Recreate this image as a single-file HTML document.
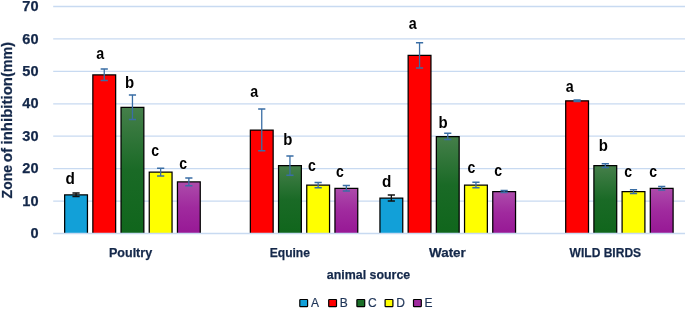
<!DOCTYPE html>
<html><head><meta charset="utf-8"><title>chart</title>
<style>
html,body{margin:0;padding:0;background:#fff;}
body{width:685px;height:309px;overflow:hidden;}
svg{display:block;}
text{font-family:"Liberation Sans",sans-serif;}
.ax{font-weight:bold;fill:#14284A;font-size:13.5px;stroke:#14284A;stroke-width:0.25px;}
.tk{font-weight:bold;fill:#14284A;font-size:14.4px;stroke:#14284A;stroke-width:0.25px;}
.lt{font-weight:bold;fill:#000;font-size:17px;}
.lg{fill:#1F3558;font-size:12px;stroke:#1F3558;stroke-width:0.2px;}
</style></head><body>
<svg width="685" height="309" viewBox="0 0 685 309">
<defs>
<linearGradient id="gC" x1="0" y1="0" x2="0" y2="1"><stop offset="0" stop-color="#457F4A"/><stop offset="0.5" stop-color="#1A6A26"/><stop offset="1" stop-color="#10661C"/></linearGradient>
<linearGradient id="gE" x1="0" y1="0" x2="0" y2="1"><stop offset="0" stop-color="#AD4CAB"/><stop offset="0.5" stop-color="#A02A9E"/><stop offset="1" stop-color="#971895"/></linearGradient>
</defs>
<rect width="685" height="309" fill="#fff"/>

<line x1="53.2" x2="685" y1="201.07" y2="201.07" stroke="#C8DAF1" stroke-width="1.3"/>
<line x1="53.2" x2="685" y1="168.64" y2="168.64" stroke="#C8DAF1" stroke-width="1.3"/>
<line x1="53.2" x2="685" y1="136.21" y2="136.21" stroke="#C8DAF1" stroke-width="1.3"/>
<line x1="53.2" x2="685" y1="103.78" y2="103.78" stroke="#C8DAF1" stroke-width="1.3"/>
<line x1="53.2" x2="685" y1="71.35" y2="71.35" stroke="#C8DAF1" stroke-width="1.3"/>
<line x1="53.2" x2="685" y1="38.92" y2="38.92" stroke="#C8DAF1" stroke-width="1.3"/>
<line x1="53.2" x2="685" y1="6.49" y2="6.49" stroke="#C8DAF1" stroke-width="1.3"/>
<text class="tk" x="38.5" y="238.20" text-anchor="end" textLength="8.1" lengthAdjust="spacingAndGlyphs">0</text>
<text class="tk" x="38.5" y="205.77" text-anchor="end" textLength="16.2" lengthAdjust="spacingAndGlyphs">10</text>
<text class="tk" x="38.5" y="173.34" text-anchor="end" textLength="16.2" lengthAdjust="spacingAndGlyphs">20</text>
<text class="tk" x="38.5" y="140.91" text-anchor="end" textLength="16.2" lengthAdjust="spacingAndGlyphs">30</text>
<text class="tk" x="38.5" y="108.48" text-anchor="end" textLength="16.2" lengthAdjust="spacingAndGlyphs">40</text>
<text class="tk" x="38.5" y="76.05" text-anchor="end" textLength="16.2" lengthAdjust="spacingAndGlyphs">50</text>
<text class="tk" x="38.5" y="43.62" text-anchor="end" textLength="16.2" lengthAdjust="spacingAndGlyphs">60</text>
<text class="tk" x="38.5" y="11.19" text-anchor="end" textLength="16.2" lengthAdjust="spacingAndGlyphs">70</text>
<path d="M64.65 233.50V194.88H87.45V233.50" fill="#12A0D8" stroke="#000" stroke-width="1.25"/>
<path d="M76.05 193.03V196.54" stroke="#111111" stroke-width="1.3" fill="none"/>
<path d="M72.45 193.03h7.2M72.45 196.54h7.2" stroke="#111111" stroke-width="1.5" fill="none"/>
<path d="M92.85 233.50V74.89H115.65V233.50" fill="#FF0000" stroke="#000" stroke-width="1.25"/>
<path d="M104.25 69.05V80.53" stroke="#3A6EA5" stroke-width="1.3" fill="none"/>
<path d="M100.65 69.05h7.2M100.65 80.53h7.2" stroke="#3A6EA5" stroke-width="1.5" fill="none"/>
<path d="M121.05 233.50V107.32H143.85V233.50" fill="url(#gC)" stroke="#000" stroke-width="1.25"/>
<path d="M132.45 94.90V119.55" stroke="#3A6EA5" stroke-width="1.3" fill="none"/>
<path d="M128.85 94.90h7.2M128.85 119.55h7.2" stroke="#3A6EA5" stroke-width="1.5" fill="none"/>
<path d="M149.25 233.50V172.18H172.05V233.50" fill="#FFFF00" stroke="#000" stroke-width="1.25"/>
<path d="M160.65 168.19V175.97" stroke="#3A6EA5" stroke-width="1.3" fill="none"/>
<path d="M157.05 168.19h7.2M157.05 175.97h7.2" stroke="#3A6EA5" stroke-width="1.5" fill="none"/>
<path d="M177.45 233.50V181.91H200.25V233.50" fill="url(#gE)" stroke="#000" stroke-width="1.25"/>
<path d="M188.85 177.92V185.70" stroke="#3A6EA5" stroke-width="1.3" fill="none"/>
<path d="M185.25 177.92h7.2M185.25 185.70h7.2" stroke="#3A6EA5" stroke-width="1.5" fill="none"/>
<path d="M250.35 233.50V130.02H273.15V233.50" fill="#FF0000" stroke="#000" stroke-width="1.25"/>
<path d="M261.75 109.01V150.84" stroke="#3A6EA5" stroke-width="1.3" fill="none"/>
<path d="M258.15 109.01h7.2M258.15 150.84h7.2" stroke="#3A6EA5" stroke-width="1.5" fill="none"/>
<path d="M278.55 233.50V165.70H301.35V233.50" fill="url(#gC)" stroke="#000" stroke-width="1.25"/>
<path d="M289.95 156.03V175.16" stroke="#3A6EA5" stroke-width="1.3" fill="none"/>
<path d="M286.35 156.03h7.2M286.35 175.16h7.2" stroke="#3A6EA5" stroke-width="1.5" fill="none"/>
<path d="M306.75 233.50V185.16H329.55V233.50" fill="#FFFF00" stroke="#000" stroke-width="1.25"/>
<path d="M318.15 182.46V187.65" stroke="#3A6EA5" stroke-width="1.3" fill="none"/>
<path d="M314.55 182.46h7.2M314.55 187.65h7.2" stroke="#3A6EA5" stroke-width="1.5" fill="none"/>
<path d="M334.95 233.50V188.40H357.75V233.50" fill="url(#gE)" stroke="#000" stroke-width="1.25"/>
<path d="M346.35 185.61V190.99" stroke="#3A6EA5" stroke-width="1.3" fill="none"/>
<path d="M342.75 185.61h7.2M342.75 190.99h7.2" stroke="#3A6EA5" stroke-width="1.5" fill="none"/>
<path d="M379.95 233.50V198.13H402.75V233.50" fill="#12A0D8" stroke="#000" stroke-width="1.25"/>
<path d="M391.35 195.11V200.95" stroke="#111111" stroke-width="1.3" fill="none"/>
<path d="M387.75 195.11h7.2M387.75 200.95h7.2" stroke="#111111" stroke-width="1.5" fill="none"/>
<path d="M408.15 233.50V55.44H430.95V233.50" fill="#FF0000" stroke="#000" stroke-width="1.25"/>
<path d="M419.55 42.69V67.98" stroke="#3A6EA5" stroke-width="1.3" fill="none"/>
<path d="M415.95 42.69h7.2M415.95 67.98h7.2" stroke="#3A6EA5" stroke-width="1.5" fill="none"/>
<path d="M436.35 233.50V136.51H459.15V233.50" fill="url(#gC)" stroke="#000" stroke-width="1.25"/>
<path d="M447.75 133.33V139.49" stroke="#3A6EA5" stroke-width="1.3" fill="none"/>
<path d="M444.15 133.33h7.2M444.15 139.49h7.2" stroke="#3A6EA5" stroke-width="1.5" fill="none"/>
<path d="M464.55 233.50V185.16H487.35V233.50" fill="#FFFF00" stroke="#000" stroke-width="1.25"/>
<path d="M475.95 182.30V187.81" stroke="#3A6EA5" stroke-width="1.3" fill="none"/>
<path d="M472.35 182.30h7.2M472.35 187.81h7.2" stroke="#3A6EA5" stroke-width="1.5" fill="none"/>
<path d="M492.75 233.50V191.64H515.55V233.50" fill="url(#gE)" stroke="#000" stroke-width="1.25"/>
<path d="M504.15 190.57V192.51" stroke="#3A6EA5" stroke-width="1.3" fill="none"/>
<path d="M500.55 190.57h7.2M500.55 192.51h7.2" stroke="#3A6EA5" stroke-width="1.5" fill="none"/>
<path d="M565.70 233.50V100.84H588.50V233.50" fill="#FF0000" stroke="#000" stroke-width="1.25"/>
<path d="M577.10 100.09V101.39" stroke="#3A6EA5" stroke-width="1.3" fill="none"/>
<path d="M573.50 100.09h7.2M573.50 101.39h7.2" stroke="#3A6EA5" stroke-width="1.5" fill="none"/>
<path d="M593.90 233.50V165.70H616.70V233.50" fill="url(#gC)" stroke="#000" stroke-width="1.25"/>
<path d="M605.30 163.81V167.38" stroke="#3A6EA5" stroke-width="1.3" fill="none"/>
<path d="M601.70 163.81h7.2M601.70 167.38h7.2" stroke="#3A6EA5" stroke-width="1.5" fill="none"/>
<path d="M622.10 233.50V191.64H644.90V233.50" fill="#FFFF00" stroke="#000" stroke-width="1.25"/>
<path d="M633.50 189.66V193.42" stroke="#3A6EA5" stroke-width="1.3" fill="none"/>
<path d="M629.90 189.66h7.2M629.90 193.42h7.2" stroke="#3A6EA5" stroke-width="1.5" fill="none"/>
<path d="M650.30 233.50V188.40H673.10V233.50" fill="url(#gE)" stroke="#000" stroke-width="1.25"/>
<path d="M661.70 186.51V190.08" stroke="#3A6EA5" stroke-width="1.3" fill="none"/>
<path d="M658.10 186.51h7.2M658.10 190.08h7.2" stroke="#3A6EA5" stroke-width="1.5" fill="none"/>
<line x1="53.2" x2="685" y1="233.50" y2="233.50" stroke="#C8DAF1" stroke-width="1.3"/>
<text class="lt" transform="translate(70.15,184.40) scale(0.90,1)" text-anchor="middle">d</text>
<text class="lt" transform="translate(100.10,58.90) scale(0.84,1)" text-anchor="middle">a</text>
<text class="lt" transform="translate(129.45,88.10) scale(0.88,1)" text-anchor="middle">b</text>
<text class="lt" transform="translate(155.25,155.60) scale(0.83,1)" text-anchor="middle">c</text>
<text class="lt" transform="translate(183.25,169.10) scale(0.83,1)" text-anchor="middle">c</text>
<text class="lt" transform="translate(254.15,97.40) scale(0.84,1)" text-anchor="middle">a</text>
<text class="lt" transform="translate(287.80,144.50) scale(0.88,1)" text-anchor="middle">b</text>
<text class="lt" transform="translate(311.80,171.30) scale(0.83,1)" text-anchor="middle">c</text>
<text class="lt" transform="translate(339.85,176.50) scale(0.83,1)" text-anchor="middle">c</text>
<text class="lt" transform="translate(386.70,187.40) scale(0.90,1)" text-anchor="middle">d</text>
<text class="lt" transform="translate(412.65,28.60) scale(0.84,1)" text-anchor="middle">a</text>
<text class="lt" transform="translate(442.95,128.20) scale(0.88,1)" text-anchor="middle">b</text>
<text class="lt" transform="translate(471.50,172.70) scale(0.83,1)" text-anchor="middle">c</text>
<text class="lt" transform="translate(498.05,176.00) scale(0.83,1)" text-anchor="middle">c</text>
<text class="lt" transform="translate(569.65,92.30) scale(0.84,1)" text-anchor="middle">a</text>
<text class="lt" transform="translate(603.20,151.10) scale(0.88,1)" text-anchor="middle">b</text>
<text class="lt" transform="translate(628.15,176.60) scale(0.83,1)" text-anchor="middle">c</text>
<text class="lt" transform="translate(653.20,176.60) scale(0.83,1)" text-anchor="middle">c</text>
<text class="ax" x="130.55" y="256.9" text-anchor="middle" textLength="43.3" lengthAdjust="spacingAndGlyphs">Poultry</text>
<text class="ax" x="289.85" y="256.9" text-anchor="middle" textLength="40.3" lengthAdjust="spacingAndGlyphs">Equine</text>
<text class="ax" x="447.40" y="256.9" text-anchor="middle" textLength="36.8" lengthAdjust="spacingAndGlyphs">Water</text>
<text class="ax" x="605.35" y="256.9" text-anchor="middle" textLength="71.5" lengthAdjust="spacingAndGlyphs">WILD BIRDS</text>
<text class="ax" x="368.5" y="279.3" text-anchor="middle" textLength="83.4" lengthAdjust="spacingAndGlyphs">animal source</text>
<text class="ax" style="font-size:15.3px" transform="translate(12.4,198.40) rotate(-90)" textLength="33.4" lengthAdjust="spacingAndGlyphs">Zone</text>
<text class="ax" style="font-size:15.3px" transform="translate(12.4,162.30) rotate(-90)" textLength="14.3" lengthAdjust="spacingAndGlyphs">of</text>
<text class="ax" style="font-size:15.3px" transform="translate(12.4,144.50) rotate(-90)" textLength="67.5" lengthAdjust="spacingAndGlyphs">inhibition</text>
<text class="ax" style="font-size:15.3px" transform="translate(12.4,77.00) rotate(-90)" textLength="35.0" lengthAdjust="spacingAndGlyphs">(mm)</text>
<rect x="299.80" y="299.5" width="7.8" height="7.2" rx="0.6" fill="#12A0D8" stroke="#000" stroke-width="1.2"/>
<text class="lg" x="310.90" y="307.3">A</text>
<rect x="328.70" y="299.5" width="7.8" height="7.2" rx="0.6" fill="#FF0000" stroke="#000" stroke-width="1.2"/>
<text class="lg" x="339.80" y="307.3">B</text>
<rect x="356.90" y="299.5" width="7.8" height="7.2" rx="0.6" fill="#1A6E27" stroke="#000" stroke-width="1.2"/>
<text class="lg" x="368.00" y="307.3">C</text>
<rect x="385.10" y="299.5" width="7.8" height="7.2" rx="0.6" fill="#FFFF00" stroke="#000" stroke-width="1.2"/>
<text class="lg" x="396.20" y="307.3">D</text>
<rect x="413.50" y="299.5" width="7.8" height="7.2" rx="0.6" fill="#A02A9E" stroke="#000" stroke-width="1.2"/>
<text class="lg" x="424.60" y="307.3">E</text>
</svg></body></html>
